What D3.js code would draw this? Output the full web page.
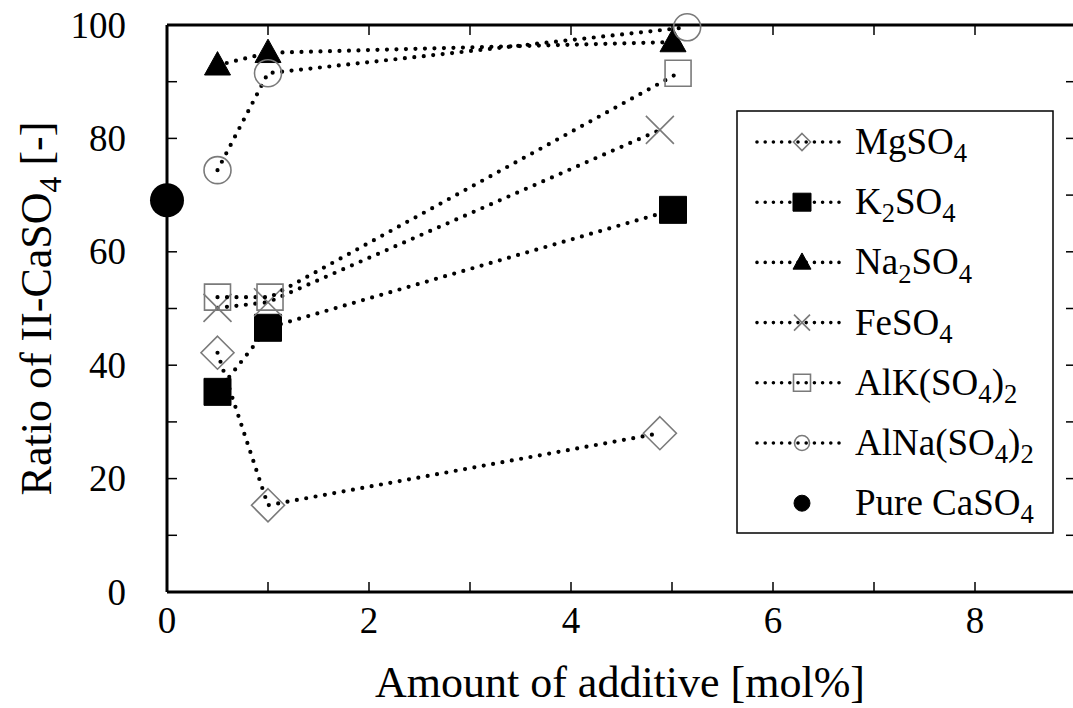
<!DOCTYPE html>
<html>
<head>
<meta charset="utf-8">
<script src="https://cdn.jsdelivr.net/npm/d3@7"></script>
<style>
  html, body { margin: 0; padding: 0; background: #fff; }
  svg { display: block; font-family: "Liberation Serif", "Times New Roman", serif; }
</style>
</head>
<body>
<svg id="chart" width="1073" height="708"></svg>
<script>
// Ratio of II-CaSO4 versus amount of sulfate additive
const seriesNames = ["MgSO_4", "K_2SO_4", "Na_2SO_4", "FeSO_4", "AlK(SO_4)_2", "AlNa(SO_4)_2"];
const seriesShapes = ["diamond", "squareFilled", "triangle", "cross", "square", "circle"];

const mgX = [0.5, 1.0, 4.88];   const mgY = [42.2, 15.3, 28.0];
const kX  = [0.5, 1.0, 5.01];   const kY  = [35.3, 46.6, 67.4];
const naX = [0.5, 1.0, 5.01];   const naY = [92.9, 95.1, 97.0];
const feX = [0.5, 1.0, 4.88];   const feY = [50.1, 51.1, 81.5];
const alkX  = [0.5, 1.02, 5.06]; const alkY  = [52.0, 52.0, 91.5];
const alnaX = [0.5, 1.0, 5.15];  const alnaY = [74.4, 91.5, 99.6];

const pureName = "Pure CaSO_4";
const pureX = [0];
const pureY = [69.1];

const xTickLabels = [0, 2, 4, 6, 8];
const yTickLabels = [0, 20, 40, 60, 80, 100];

const seriesX = [mgX, kX, naX, feX, alkX, alnaX];
const seriesY = [mgY, kY, naY, feY, alkY, alnaY];

const svg = d3.select("#chart");
const x = d3.scaleLinear().domain([0, 9]).range([167, 1076]);
const y = d3.scaleLinear().domain([0, 100]).range([592, 25]);

const tickFont = 37, titleFont = 44, legendFont = 37;

// marker path builders (size = half-extent in px)
function markerPath(shape, s) {
  const p = d3.path();
  switch (shape) {
    case "diamond":
      p.moveTo(0, -s); p.lineTo(s, 0); p.lineTo(0, s); p.lineTo(-s, 0); p.closePath(); break;
    case "square": case "squareFilled":
      p.rect(-s, -s, 2 * s, 2 * s); break;
    case "triangle":
      p.moveTo(0, -s * 1.05); p.lineTo(s, s * 0.75); p.lineTo(-s, s * 0.75); p.closePath(); break;
    case "circle": case "dot":
      p.arc(0, 0, s, 0, 2 * Math.PI); break;
    case "cross":
      p.moveTo(-s, -s); p.lineTo(s, s); p.moveTo(s, -s); p.lineTo(-s, s); break;
  }
  return p.toString();
}
function markerStyle(sel, shape) {
  const filled = shape === "squareFilled" || shape === "triangle" || shape === "dot";
  sel.attr("fill", filled ? "#000" : "none")
     .attr("stroke", filled ? "#000" : "#7a7a7a")
     .attr("stroke-width", filled ? 1 : 1.6);
}
const plotSize = { diamond: 16.5, squareFilled: 13.5, square: 13, triangle: 13, circle: 13.5, cross: 14 };
const legendSize = { diamond: 8.5, squareFilled: 9, square: 8.5, triangle: 9, circle: 7.5, cross: 8, dot: 8 };

// rich label with subscripts: "_d" marks a subscript digit
function richText(textSel, label, size) {
  const parts = label.split(/(_\d)/).filter(s => s.length);
  let inSub = false;
  parts.forEach(part => {
    const isSub = part.startsWith("_");
    const t = textSel.append("tspan").text(isSub ? part.slice(1) : part);
    if (isSub) {
      t.attr("font-size", size * 0.72).attr("dy", size * 0.22);
      inSub = true;
    } else if (inSub) {
      t.attr("dy", -size * 0.22);
      inSub = false;
    }
  });
}

// axes frame
const axisG = svg.append("g");
axisG.append("line").attr("x1", x(0)).attr("x2", x(9)).attr("y1", y(0)).attr("y2", y(0))
  .attr("stroke", "#000").attr("stroke-width", 3);
axisG.append("line").attr("x1", x(0)).attr("x2", x(9)).attr("y1", y(100)).attr("y2", y(100))
  .attr("stroke", "#000").attr("stroke-width", 3);
axisG.append("line").attr("x1", x(0)).attr("x2", x(0)).attr("y1", y(0)).attr("y2", y(100))
  .attr("stroke", "#000").attr("stroke-width", 3);
axisG.append("line").attr("x1", x(9)).attr("x2", x(9)).attr("y1", y(0)).attr("y2", y(100))
  .attr("stroke", "#000").attr("stroke-width", 3);

// inward tick marks
const xMinor = d3.range(1, 9);
const yMinor = d3.range(10, 100, 10);
axisG.selectAll(".xtb").data(xMinor).join("line")
  .attr("x1", d => x(d)).attr("x2", d => x(d)).attr("y1", y(0)).attr("y2", y(0) - 10)
  .attr("stroke", "#000").attr("stroke-width", 1.5);
axisG.selectAll(".xtt").data(xMinor).join("line")
  .attr("x1", d => x(d)).attr("x2", d => x(d)).attr("y1", y(100)).attr("y2", y(100) + 10)
  .attr("stroke", "#000").attr("stroke-width", 1.5);
axisG.selectAll(".ytl").data(yMinor).join("line")
  .attr("x1", x(0)).attr("x2", x(0) + 10).attr("y1", d => y(d)).attr("y2", d => y(d))
  .attr("stroke", "#000").attr("stroke-width", 1.5);
axisG.selectAll(".ytr").data(yMinor).join("line")
  .attr("x1", x(9)).attr("x2", x(9) - 10).attr("y1", d => y(d)).attr("y2", d => y(d))
  .attr("stroke", "#000").attr("stroke-width", 1.5);

// tick labels
axisG.selectAll(".xl").data(xTickLabels).join("text")
  .attr("x", d => x(d)).attr("y", 633).attr("text-anchor", "middle")
  .attr("font-size", tickFont).attr("fill", "#000").text(d => d);
axisG.selectAll(".yl").data(yTickLabels).join("text")
  .attr("x", 126).attr("y", d => y(d)).attr("dy", "0.34em").attr("text-anchor", "end")
  .attr("font-size", tickFont).attr("fill", "#000").text(d => d);

// axis titles
svg.append("text").attr("x", 620).attr("y", 697).attr("text-anchor", "middle")
  .attr("font-size", titleFont).attr("fill", "#000").text("Amount of additive [mol%]");
const yTitle = svg.append("text")
  .attr("transform", `translate(51,${(y(0) + y(100)) / 2}) rotate(-90)`)
  .attr("text-anchor", "middle").attr("font-size", titleFont).attr("fill", "#000");
richText(yTitle, "Ratio of II-CaSO_4 [-]", titleFont);

// series
const line = d3.line().x(d => x(d[0])).y(d => y(d[1]));
seriesNames.forEach((name, i) => {
  const pts = seriesX[i].map((v, j) => [v, seriesY[i][j]]);
  const g = svg.append("g");
  g.append("path").attr("d", line(pts)).attr("fill", "none")
    .attr("stroke", "#000").attr("stroke-width", 4.2)
    .attr("stroke-linecap", "round").attr("stroke-dasharray", "0 9.5");
  g.selectAll("path.m").data(pts).join("path").attr("class", "m")
    .attr("transform", d => `translate(${x(d[0])},${y(d[1])})`)
    .attr("d", markerPath(seriesShapes[i], plotSize[seriesShapes[i]]))
    .call(markerStyle, seriesShapes[i]);
});
svg.selectAll("circle.pure").data(pureX.map((v, j) => [v, pureY[j]])).join("circle")
  .attr("class", "pure").attr("cx", d => x(d[0])).attr("cy", d => y(d[1])).attr("r", 17)
  .attr("fill", "#000");

// legend
const lg = svg.append("g");
lg.append("rect").attr("x", 737).attr("y", 111).attr("width", 316).attr("height", 422)
  .attr("fill", "#fff").attr("stroke", "#000").attr("stroke-width", 1.5);
const legendNames = seriesNames.concat([pureName]);
const legendShapes = seriesShapes.concat(["dot"]);
legendNames.forEach((name, i) => {
  const cy = 142 + i * 60.2;
  if (i < seriesNames.length) {
    lg.append("line").attr("x1", 757).attr("x2", 843).attr("y1", cy).attr("y2", cy)
      .attr("stroke", "#000").attr("stroke-width", 3.6)
      .attr("stroke-linecap", "round").attr("stroke-dasharray", "0 8.2");
  }
  lg.append("path").attr("transform", `translate(802,${cy})`)
    .attr("d", markerPath(legendShapes[i], legendSize[legendShapes[i]]))
    .call(markerStyle, legendShapes[i]);
  const t = lg.append("text").attr("x", 855).attr("y", cy + 12)
    .attr("font-size", legendFont).attr("fill", "#000");
  richText(t, name, legendFont);
});
</script>
</body>
</html>
